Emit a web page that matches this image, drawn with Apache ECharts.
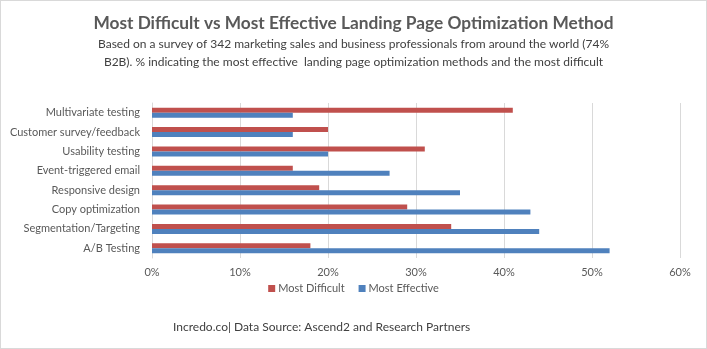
<!DOCTYPE html>
<html><head><meta charset="utf-8">
<script src="https://cdn.jsdelivr.net/npm/echarts@6/dist/echarts.min.js"></script>
<style>html,body{margin:0;padding:0;background:#fff}#c{width:707px;height:349px;box-sizing:border-box;border:1px solid #d9d9d9}</style>
</head><body><div id="c"></div>
<script>
const categories = ["A/B Testing","Segmentation/Targeting","Copy optimization","Responsive design","Event-triggered email","Usability testing","Customer survey/feedback","Multivariate testing"];
const mostDifficult = [18,34,29,19,16,31,20,41];
const mostEffective = [52,44,43,35,27,20,16,16];
const tickLabels = ["0%","10%","20%","30%","40%","50%","60%"];
const F = "Lato, 'Open Sans', sans-serif";
const chart = echarts.init(document.getElementById('c'));
chart.setOption({
  animation:false,
  textStyle:{fontFamily:F},
  title:[
    {text:"Most Difficult vs Most Effective Landing Page Optimization Method",left:'center',top:9,textStyle:{fontFamily:F,fontSize:17.3,fontWeight:'bold',color:'#595959'}},
    {text:"Based on a survey of 342 marketing sales and business professionals from around the world (74%",left:'center',top:32,textStyle:{fontFamily:F,fontSize:12,fontWeight:'normal',color:'#404040'}},
    {text:"B2B). % indicating the most effective  landing page optimization methods and the most difficult",left:'center',top:50,textStyle:{fontFamily:F,fontSize:12,fontWeight:'normal',color:'#404040'}},
    {text:"Incredo.co| Data Source: Ascend2 and Research Partners",left:167,top:315,textStyle:{fontFamily:F,fontSize:12,fontWeight:'normal',color:'#404040'}}
  ],
  legend:{top:277,left:'center',itemWidth:7,itemHeight:7,itemGap:14,icon:'rect',textStyle:{fontFamily:F,fontSize:11,color:'#595959',padding:[0,0,0,-2]},data:["Most Difficult","Most Effective"]},
  grid:{left:151,right:26,top:102,bottom:90,containLabel:false},
  xAxis:{type:'value',min:0,max:60,interval:10,axisLine:{show:false},axisTick:{show:false},
    splitLine:{lineStyle:{color:'#d9d9d9',width:1}},
    axisLabel:{color:'#595959',fontSize:11,margin:9,formatter:v=>tickLabels[Math.round(v/10)]}},
  yAxis:{type:'category',data:categories,axisLine:{lineStyle:{color:'#d9d9d9'}},axisTick:{show:false},
    axisLabel:{color:'#595959',fontSize:11,margin:12}},
  series:[
    {name:"Most Difficult",type:'bar',data:mostDifficult,itemStyle:{color:'#C0504D'},barWidth:5,barGap:'0%',barCategoryGap:'49%'},
    {name:"Most Effective",type:'bar',data:mostEffective,itemStyle:{color:'#4F81BD'},barWidth:5,barGap:'0%'}
  ]
});
</script></body></html>
